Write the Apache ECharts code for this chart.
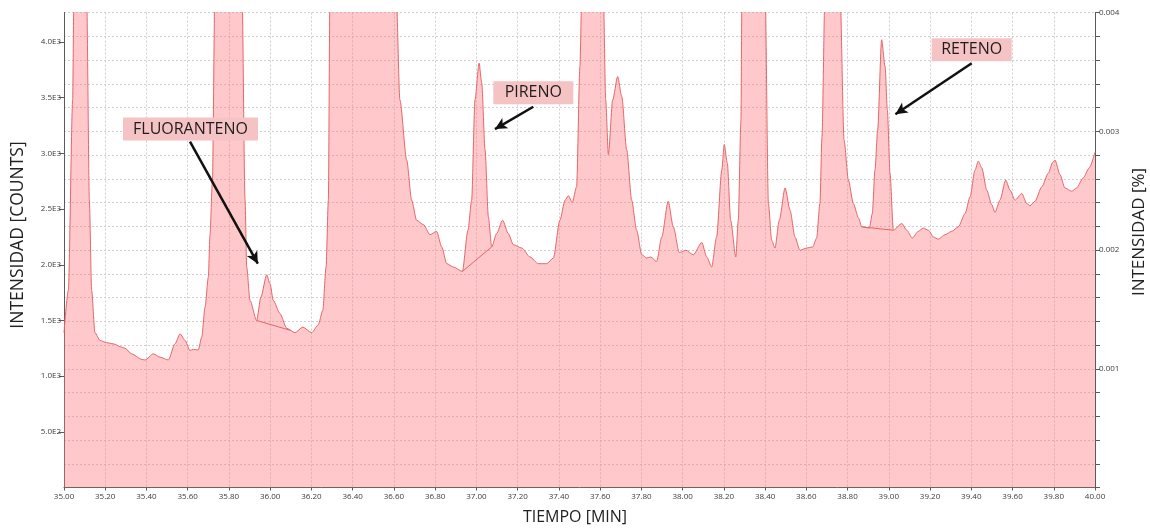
<!DOCTYPE html>
<html>
<head>
<meta charset="utf-8">
<script src="https://cdn.jsdelivr.net/npm/echarts@6/dist/echarts.min.js"></script>
<style>
  html, body { margin: 0; padding: 0; background: #ffffff; overflow: hidden; }
  #chart { width: 1150px; height: 531px; }
</style>
</head>
<body>
<div id="chart"></div>
<script>
// Retention time (min) and detector response (counts) of the chromatogram trace
const times = [
  35.000, 35.021, 35.042, 35.048, 35.078, 35.110, 35.123, 35.134, 35.150, 35.175,
  35.207, 35.239, 35.280, 35.296, 35.328, 35.377, 35.393, 35.433, 35.466, 35.506,
  35.538, 35.563, 35.587, 35.611, 35.627, 35.651, 35.668, 35.684, 35.700, 35.708,
  35.720, 35.732, 35.795, 35.863, 35.878, 35.886, 35.902, 35.934, 35.955, 35.983,
  35.999, 36.015, 36.048, 36.080, 36.120, 36.158, 36.201, 36.233, 36.255, 36.271,
  36.282, 36.290, 36.450, 36.610, 36.629, 36.662, 36.686, 36.710, 36.743, 36.775,
  36.807, 36.832, 36.856, 36.888, 36.932, 36.959, 36.977, 36.993, 37.013, 37.026,
  37.042, 37.058, 37.074, 37.098, 37.127, 37.155, 37.179, 37.220, 37.260, 37.300,
  37.341, 37.373, 37.405, 37.430, 37.446, 37.465, 37.486, 37.502, 37.512, 37.570,
  37.615, 37.627, 37.640, 37.661, 37.685, 37.705, 37.729, 37.753, 37.777, 37.802,
  37.826, 37.845, 37.874, 37.899, 37.930, 37.955, 37.984, 38.016, 38.052, 38.093,
  38.117, 38.141, 38.165, 38.190, 38.202, 38.217, 38.233, 38.258, 38.270, 38.283,
  38.288, 38.320, 38.400, 38.416, 38.432, 38.448, 38.469, 38.497, 38.521, 38.545,
  38.569, 38.602, 38.631, 38.650, 38.666, 38.676, 38.691, 38.730, 38.763, 38.783,
  38.804, 38.828, 38.853, 38.869, 38.906, 38.920, 38.933, 38.946, 38.965, 38.982,
  38.993, 39.006, 39.022, 39.063, 39.087, 39.114, 39.143, 39.167, 39.192, 39.216,
  39.240, 39.273, 39.305, 39.337, 39.370, 39.394, 39.418, 39.434, 39.451, 39.475,
  39.499, 39.515, 39.539, 39.567, 39.588, 39.612, 39.645, 39.669, 39.685, 39.709,
  39.742, 39.773, 39.795, 39.806, 39.830, 39.854, 39.887, 39.911, 39.943, 39.972,
  40.000
];
const counts = [
  1390, 1770, 3480, 4400, 8000, 4400, 2580, 1770, 1390, 1320,
  1300, 1290, 1260, 1250, 1200, 1150, 1145, 1200, 1170, 1145,
  1290, 1380, 1320, 1230, 1240, 1235, 1350, 1620, 1890, 2270,
  2760, 4500, 9000, 4500, 2580, 1980, 1680, 1500, 1710, 1910,
  1830, 1680, 1560, 1430, 1390, 1440, 1390, 1460, 1590, 1980,
  2580, 4500, 12000, 4500, 3480, 2940, 2580, 2400, 2360, 2270,
  2300, 2160, 2010, 1980, 1940, 2310, 2580, 3480, 3810, 3630,
  3030, 2430, 2160, 2280, 2400, 2280, 2180, 2150, 2070, 2010,
  2010, 2060, 2400, 2580, 2620, 2560, 2700, 3780, 4500, 9000,
  4500, 3480, 2990, 3480, 3690, 3510, 3030, 2580, 2310, 2090,
  2060, 2070, 2030, 2250, 2570, 2340, 2110, 2130, 2090, 2200,
  2070, 1980, 2250, 2850, 3080, 2910, 2400, 2070, 2400, 3300,
  4500, 9000, 4500, 2550, 2220, 2150, 2400, 2690, 2490, 2250,
  2130, 2150, 2160, 2240, 2550, 3150, 4500, 9000, 4500, 3120,
  2760, 2550, 2420, 2340, 2330, 2460, 2850, 3210, 4020, 3780,
  3390, 2820, 2310, 2370, 2310, 2240, 2300, 2330, 2310, 2250,
  2230, 2270, 2300, 2340, 2460, 2610, 2850, 2930, 2870, 2670,
  2540, 2470, 2580, 2760, 2670, 2580, 2640, 2550, 2530, 2570,
  2700, 2820, 2920, 2940, 2810, 2690, 2660, 2690, 2780, 2870,
  3010
];

// Integration baselines drawn under the labelled peaks
const fluorantenoBaseT = [35.934, 36.100];
const fluorantenoBaseC = [1500, 1410];
const pirenoBaseT = [36.932, 37.074];
const pirenoBaseC = [1940, 2160];
const retenoBaseT = [38.869, 39.022];
const retenoBaseC = [2340, 2310];

// Peak labels: name, box centre [min, counts], arrow start and tip
const peakNames = ['FLUORANTENO', 'PIRENO', 'RETENO'];
const labelAt = [[35.6135, 3219], [37.276, 3544], [39.402, 3931]];
const arrowFrom = [[35.611, 3105], [37.276, 3419], [39.402, 3809]];
const arrowTo = [[35.940, 2010], [37.090, 3218], [39.032, 3352]];

// Axis settings
const xMin = 35, xMax = 40, xStep = 0.2;
const countsMax = 4265, countsStep = 500;
const pctMax = 0.004, pctStep = 0.0002;
const countTicks = [500, 1000, 1500, 2000, 2500, 3000, 3500, 4000];

const zip = (a, b) => a.map((v, i) => [v, b[i]]);

const RED = '#e4676a';
const FILL = 'rgba(255, 118, 122, 0.40)';
const BOX = '#f6c3c4';
const AXIS = '#5a5a5a';
const TXT = '#3c3c3c';

const chart = echarts.init(document.getElementById('chart'), null, { renderer: 'canvas' });

const baseStyle = {
  type: 'line', yAxisIndex: 0, showSymbol: false, symbol: 'none', silent: true,
  lineStyle: { color: RED, width: 1 }, z: 3
};

chart.setOption({
  animation: false,
  backgroundColor: '#ffffff',
  grid: { left: 64, right: 55, top: 12.5, bottom: 43.5, containLabel: false, outerBoundsMode: 'none' },
  xAxis: {
    type: 'value', min: xMin, max: xMax, interval: xStep,
    name: 'TIEMPO [MIN]', nameLocation: 'middle', nameGap: 22,
    nameTextStyle: { fontFamily: 'Open Sans', fontSize: 16, color: '#222', padding: [0, 9, 0, 0] },
    axisLine: { show: true, onZero: false, lineStyle: { color: AXIS, width: 1 } },
    axisTick: { show: true, length: 3, lineStyle: { color: AXIS } },
    axisLabel: { fontFamily: 'Open Sans', fontSize: 8, color: TXT, margin: 5,
      formatter: v => v.toFixed(2) },
    splitLine: { show: true, lineStyle: { color: '#cfcfcf', type: [2, 2], width: 1 } }
  },
  yAxis: [
    {
      type: 'value', position: 'left', min: 0, max: countsMax, interval: countsStep,
      name: 'INTENSIDAD [COUNTS]', nameLocation: 'middle', nameGap: 37, nameRotate: 90,
      nameTextStyle: { fontFamily: 'Open Sans', fontSize: 17.5, color: '#222', padding: [0, 0, 0, 30] },
      axisLine: { show: true, lineStyle: { color: AXIS, width: 1 } },
      axisTick: { show: true, length: 5, lineStyle: { color: AXIS }, customValues: countTicks },
      axisLabel: { fontFamily: 'Open Sans', fontSize: 8, color: TXT, margin: 3,
        customValues: countTicks,
        formatter: v => (v > 0 && v % 500 === 0) ? v.toExponential(1).toUpperCase().replace('+', '') : '' },
      splitLine: { show: false }
    },
    {
      type: 'value', position: 'right', min: 0, max: pctMax, interval: pctStep,
      name: 'INTENSIDAD [%]', nameLocation: 'middle', nameGap: 30, nameRotate: 90,
      nameTextStyle: { fontFamily: 'Open Sans', fontSize: 17, color: '#222', padding: [0, 0, 0, 36] },
      axisLine: { show: true, lineStyle: { color: AXIS, width: 1 } },
      axisTick: { show: true, length: 5, lineStyle: { color: AXIS } },
      axisLabel: { fontFamily: 'Open Sans', fontSize: 8, color: TXT, margin: 4,
        formatter: v => {
          const k = Math.round(v * 10000);
          return (k > 0 && k % 10 === 0) ? (k / 10000).toFixed(3) : '';
        } },
      splitLine: { show: true, lineStyle: { color: '#cfcfcf', type: [2, 2], width: 1 } }
    }
  ],
  series: [
    {
      name: 'TIC', type: 'line', yAxisIndex: 0, data: zip(times, counts),
      showSymbol: false, symbol: 'none', clip: true, silent: true,
      smooth: 0.25, smoothMonotone: 'x',
      lineStyle: { color: RED, width: 1 },
      areaStyle: { color: FILL, opacity: 1, origin: 'start' },
      z: 2,
      markPoint: {
        silent: true, symbol: 'rect',
        itemStyle: { color: BOX },
        label: { show: true, position: 'inside', color: '#1e1e1e',
          fontFamily: 'Open Sans', fontSize: 16, formatter: '{b}' },
        data: peakNames.map((n, i) => ({
          name: n, coord: labelAt[i],
          symbolSize: [n.length > 8 ? 135 : 80, 23]
        }))
      },
      markLine: {
        silent: true, symbol: ['none', 'arrow'], symbolSize: [9, 12],
        lineStyle: { color: '#111', width: 2.5, type: 'solid' },
        label: { show: false },
        data: peakNames.map((n, i) => [{ coord: arrowFrom[i] }, { coord: arrowTo[i] }])
      }
    },
    Object.assign({ name: 'FLUORANTENO base', data: zip(fluorantenoBaseT, fluorantenoBaseC) }, baseStyle),
    Object.assign({ name: 'PIRENO base', data: zip(pirenoBaseT, pirenoBaseC) }, baseStyle),
    Object.assign({ name: 'RETENO base', data: zip(retenoBaseT, retenoBaseC) }, baseStyle)
  ]
});
</script>
</body>
</html>
